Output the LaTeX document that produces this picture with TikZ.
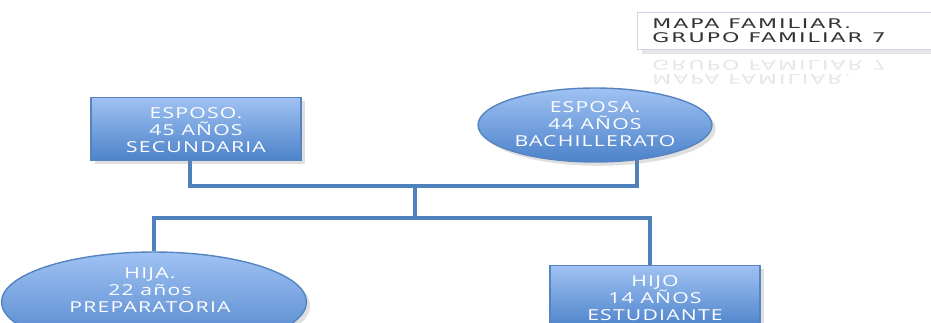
\documentclass[tikz,border=0pt]{standalone}
\usepackage{fontspec}
\setmainfont{Open Sans}
\newfontfamily\boxfont[FakeStretch=1.4,LetterSpace=8]{Open Sans}
\newfontfamily\titlefont[FakeStretch=1.65,LetterSpace=15]{DejaVu Sans}
\usetikzlibrary{shapes.geometric,shadows,backgrounds}

\definecolor{topblue}{RGB}{160,194,243}
\definecolor{botblue}{RGB}{76,130,202}
\definecolor{edgeblue}{RGB}{86,132,192}
\definecolor{lineblue}{RGB}{79,129,189}
\definecolor{framegray}{RGB}{205,214,228}

\tikzset{
  persona/.style={draw=edgeblue,line width=0.8pt,top color=topblue,bottom color=botblue,
    drop shadow={opacity=0.25,shadow xshift=0.4ex,shadow yshift=-0.4ex}},
  caja/.style={persona,rectangle,minimum width=4.2cm,minimum height=1.26cm},
  ovalo/.style={persona,ellipse,inner sep=0pt},
  rotulo/.style={text=white,align=center,font=\boxfont\fontsize{8.6}{9.6}\selectfont},
  enlace/.style={lineblue,line width=2pt},
  titulo/.style={align=left,inner sep=0pt,font=\titlefont\fontsize{7.6}{8}\selectfont},
}

\begin{document}
\begin{tikzpicture}[x=0.02cm,y=-0.02cm]

\useasboundingbox (0,0) rectangle (931,322);
\clip (0,0) rectangle (931,322);

% titulo
\node[draw=framegray,fill=white,rectangle,minimum width=6.2cm,minimum height=0.74cm,
  drop shadow={opacity=0.2}] (marco) at (792,31) {};
\node[titulo,anchor=west,text=black!80] (titulo) at (652,31) {MAPA FAMILIAR.\\GRUPO FAMILIAR 7};
\node[titulo,anchor=west,text=gray,opacity=0.2,yscale=-1,transform shape] (reflejo) at (652,72)
  {MAPA FAMILIAR.\\GRUPO FAMILIAR 7};

% padres
\node[caja] (esposo) at (196,129) {};
\node[rotulo] (esposotxt) at (196,130) {ESPOSO.\\45 AÑOS\\SECUNDARIA};
\node[ovalo,minimum width=4.68cm,minimum height=1.48cm] (esposa) at (595,125) {};
\node[rotulo] (esposatxt) at (595,124) {ESPOSA.\\44 AÑOS\\BACHILLERATO};

% hijos
\node[ovalo,minimum width=6.1cm,minimum height=2cm] (hija) at (154,302) {};
\node[rotulo] (hijatxt) at (150,290) {HIJA.\\22 años\\PREPARATORIA};
\node[caja] (hijo) at (655,297) {};
\node[rotulo] (hijotxt) at (655,298) {HIJO\\14 AÑOS\\ESTUDIANTE};

\coordinate (izq) at (190,186);
\coordinate (arriba) at (415,186);
\coordinate (abajo) at (415,218);
\coordinate (der) at (637,186);

\begin{scope}[on background layer]
\draw[enlace] (izq |- esposo.south) -- (izq) -- (der) -- (der |- esposa.center);
\draw[enlace] (arriba) -- (abajo);
\draw[enlace] (hija.north) |- (abajo) -| ([xshift=-0.1cm]hijo.north);
\end{scope}

\end{tikzpicture}
\end{document}
